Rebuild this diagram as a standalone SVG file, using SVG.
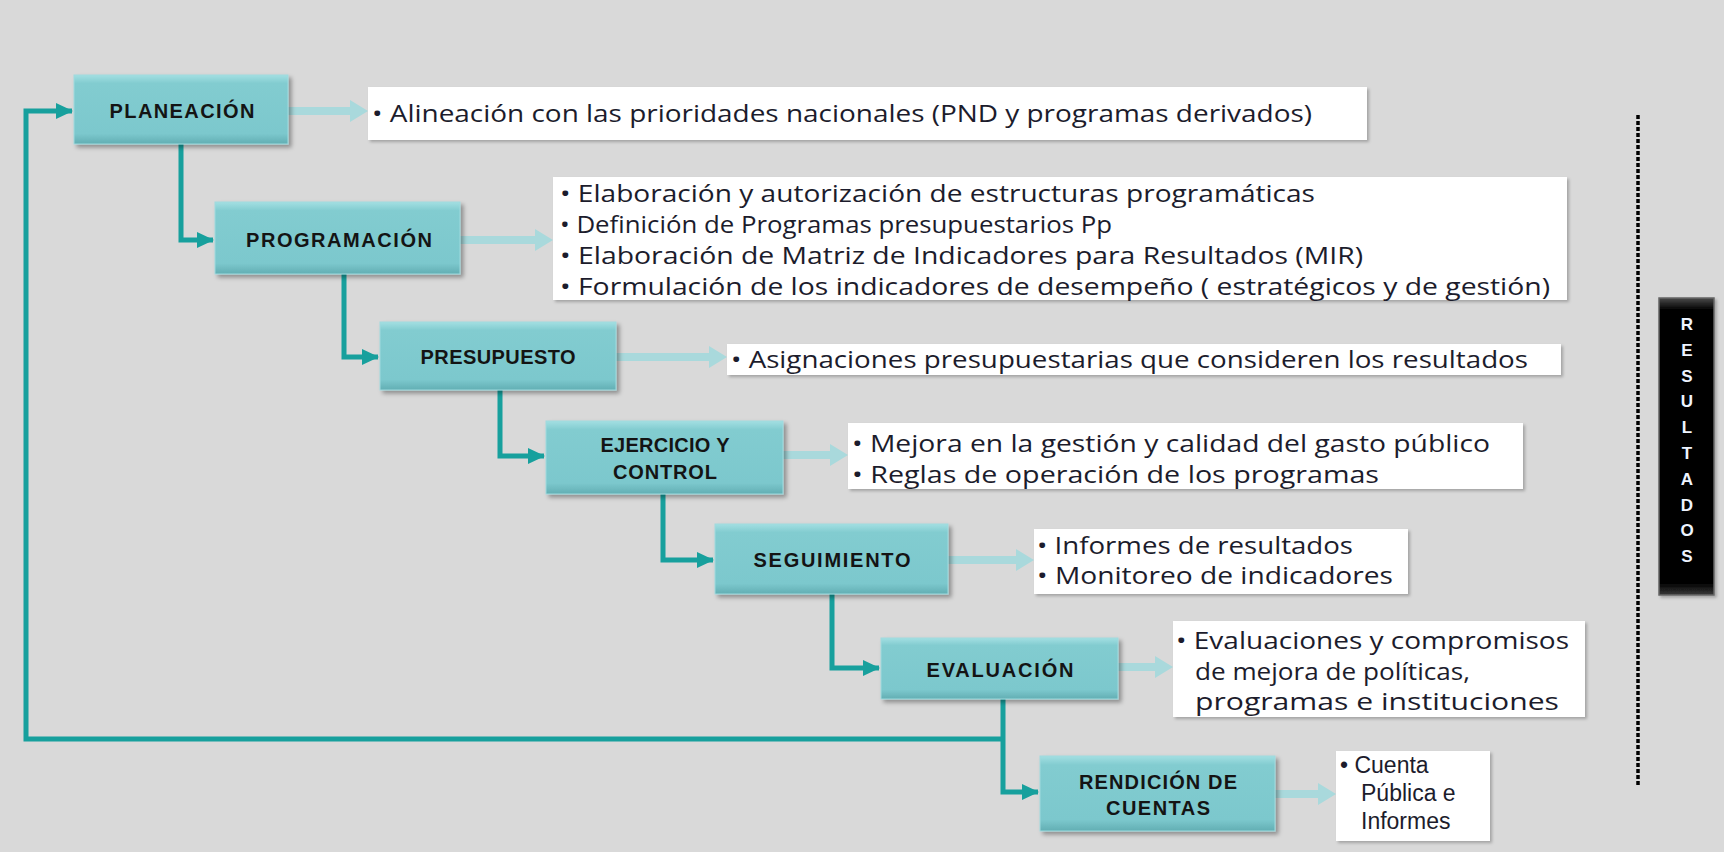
<svg xmlns="http://www.w3.org/2000/svg" width="1724" height="852" viewBox="0 0 1724 852">
<defs>
<linearGradient id="tealGrad" x1="0" y1="0" x2="0" y2="1">
<stop offset="0" stop-color="#a3dfe2"/>
<stop offset="0.12" stop-color="#82ccd0"/>
<stop offset="0.85" stop-color="#7cc8cd"/>
<stop offset="1" stop-color="#62aeb3"/>
</linearGradient>
<linearGradient id="blackGrad" x1="0" y1="0" x2="0" y2="1">
<stop offset="0" stop-color="#4a4a4a"/>
<stop offset="0.04" stop-color="#000"/>
<stop offset="0.96" stop-color="#000"/>
<stop offset="1" stop-color="#3a3a3a"/>
</linearGradient>
<filter id="shadow" x="-10%" y="-10%" width="130%" height="140%">
<feDropShadow dx="3" dy="3" stdDeviation="2" flood-color="#000" flood-opacity="0.35"/>
</filter>
<filter id="shadowLight" x="-5%" y="-10%" width="115%" height="140%">
<feDropShadow dx="2" dy="2" stdDeviation="1.5" flood-color="#000" flood-opacity="0.25"/>
</filter>
<marker id="tealHead" markerUnits="userSpaceOnUse" markerWidth="18" markerHeight="18" refX="16" refY="9" orient="auto">
<path d="M0,1 L17,9 L0,17 Z" fill="#17a09d"/>
</marker>
<style>
.box{fill:url(#tealGrad);stroke:#9fdade;stroke-width:1;filter:url(#shadow)}
.tbox{fill:#fff;filter:url(#shadowLight)}
.lbl{font-family:"Liberation Sans",Arial,sans-serif;font-weight:bold;font-size:20px;fill:#141414;text-anchor:middle}
.txt{font-family:"Open Sans","Liberation Sans",sans-serif;font-size:24px;fill:#1c1c2c}
.txt2{font-family:"Liberation Sans",Arial,sans-serif;font-size:23px;fill:#1c1c2c}
.conn{fill:none;stroke:#17a09d;stroke-width:5}
.larr{fill:#a9d9dc}
.res{font-family:"Liberation Sans",Arial,sans-serif;font-weight:900;font-size:17px;fill:#eef4ff;text-anchor:middle}
</style>
</defs>
<rect x="0" y="0" width="1724" height="852" fill="#d9d9d9"/>

<g id="connectors">
<path class="conn" d="M181,144 V240 H213" marker-end="url(#tealHead)"/>
<path class="conn" d="M344,274 V357 H378" marker-end="url(#tealHead)"/>
<path class="conn" d="M500,390 V456 H544" marker-end="url(#tealHead)"/>
<path class="conn" d="M663,494 V560 H713" marker-end="url(#tealHead)"/>
<path class="conn" d="M832,594 V668 H879" marker-end="url(#tealHead)"/>
<path class="conn" d="M1003,699 V792 H1038" marker-end="url(#tealHead)"/>
<path class="conn" d="M1003,739 H26 V111 H72" marker-end="url(#tealHead)"/>
<polygon class="larr" points="288,107 350,107 350,100 368,111 350,122 350,115 288,115"/>
<polygon class="larr" points="460,236 535,236 535,229 553,240 535,251 535,244 460,244"/>
<polygon class="larr" points="616,353 709,353 709,346 727,357 709,368 709,361 616,361"/>
<polygon class="larr" points="783,451 830,451 830,444 848,455 830,466 830,459 783,459"/>
<polygon class="larr" points="948,556 1016,556 1016,549 1034,560 1016,571 1016,564 948,564"/>
<polygon class="larr" points="1118,663 1155,663 1155,656 1173,667 1155,678 1155,671 1118,671"/>
<polygon class="larr" points="1275,790 1318,790 1318,783 1336,794 1318,805 1318,798 1275,798"/>
</g>

<g id="planeacion">
<rect class="box" x="74" y="75" width="214" height="69"/>
<text class="lbl" x="182" y="118" textLength="145" lengthAdjust="spacing">PLANEACIÓN</text>
</g>
<g id="planeacion-text">
<rect class="tbox" x="368" y="87" width="999" height="53"/>
<text class="txt" x="372" y="122" textLength="940" lengthAdjust="spacingAndGlyphs">• Alineación con las prioridades nacionales (PND y programas derivados)</text>
</g>

<g id="programacion">
<rect class="box" x="215" y="202" width="245" height="72"/>
<text class="lbl" x="339" y="247" textLength="186" lengthAdjust="spacing">PROGRAMACIÓN</text>
</g>
<g id="programacion-text">
<rect class="tbox" x="553" y="177" width="1014" height="123"/>
<text class="txt" x="560" y="202" textLength="755" lengthAdjust="spacingAndGlyphs">• Elaboración y autorización de estructuras programáticas</text>
<text class="txt" x="560" y="233" textLength="552" lengthAdjust="spacingAndGlyphs">• Definición de Programas presupuestarios Pp</text>
<text class="txt" x="560" y="264" textLength="803" lengthAdjust="spacingAndGlyphs">• Elaboración de Matriz de Indicadores para Resultados (MIR)</text>
<text class="txt" x="560" y="295" textLength="990" lengthAdjust="spacingAndGlyphs">• Formulación de los indicadores de desempeño  ( estratégicos y de gestión)</text>
</g>

<g id="presupuesto">
<rect class="box" x="380" y="322" width="236" height="68"/>
<text class="lbl" x="498" y="364" textLength="155" lengthAdjust="spacing">PRESUPUESTO</text>
</g>
<g id="presupuesto-text">
<rect class="tbox" x="727" y="344" width="834" height="31"/>
<text class="txt" x="731" y="368" textLength="797" lengthAdjust="spacingAndGlyphs">• Asignaciones presupuestarias que consideren los  resultados</text>
</g>

<g id="ejercicio">
<rect class="box" x="546" y="421" width="237" height="73"/>
<text class="lbl" x="665" y="452" textLength="129" lengthAdjust="spacing">EJERCICIO Y</text>
<text class="lbl" x="665" y="479" textLength="104" lengthAdjust="spacing">CONTROL</text>
</g>
<g id="ejercicio-text">
<rect class="tbox" x="848" y="423" width="675" height="66"/>
<text class="txt" x="852" y="452" textLength="638" lengthAdjust="spacingAndGlyphs">• Mejora en la gestión y calidad del gasto público</text>
<text class="txt" x="852" y="483" textLength="527" lengthAdjust="spacingAndGlyphs">• Reglas  de operación de los programas</text>
</g>

<g id="seguimiento">
<rect class="box" x="715" y="524" width="233" height="70"/>
<text class="lbl" x="832" y="567" textLength="157" lengthAdjust="spacing">SEGUIMIENTO</text>
</g>
<g id="seguimiento-text">
<rect class="tbox" x="1034" y="529" width="374" height="65"/>
<text class="txt" x="1037" y="554" textLength="316" lengthAdjust="spacingAndGlyphs">• Informes de resultados</text>
<text class="txt" x="1037" y="584" textLength="356" lengthAdjust="spacingAndGlyphs">• Monitoreo de indicadores</text>
</g>

<g id="evaluacion">
<rect class="box" x="881" y="638" width="237" height="61"/>
<text class="lbl" x="1000" y="677" textLength="147" lengthAdjust="spacing">EVALUACIÓN</text>
</g>
<g id="evaluacion-text">
<rect class="tbox" x="1173" y="621" width="412" height="96"/>
<text class="txt" x="1176" y="649" textLength="393" lengthAdjust="spacingAndGlyphs">• Evaluaciones y compromisos</text>
<text class="txt" x="1195" y="680" textLength="275" lengthAdjust="spacingAndGlyphs">de mejora de políticas,</text>
<text class="txt" x="1195" y="710" textLength="364" lengthAdjust="spacingAndGlyphs">programas e instituciones</text>
</g>

<g id="rendicion">
<rect class="box" x="1040" y="756" width="235" height="75"/>
<text class="lbl" x="1158" y="789" textLength="158" lengthAdjust="spacing">RENDICIÓN DE</text>
<text class="lbl" x="1158" y="815" textLength="104" lengthAdjust="spacing">CUENTAS</text>
</g>
<g id="rendicion-text">
<rect class="tbox" x="1336" y="751" width="154" height="90"/>
<text class="txt2" x="1340" y="773">• Cuenta</text>
<text class="txt2" x="1361" y="801">Pública e</text>
<text class="txt2" x="1361" y="829">Informes</text>
</g>

<g id="resultados-line">
<line x1="1638" y1="115" x2="1638" y2="786" stroke="#000" stroke-width="3.5" stroke-dasharray="4,2"/>
</g>
<g id="resultados">
<rect x="1659" y="298" width="55" height="297" fill="url(#blackGrad)" stroke="#666" stroke-width="1.5" filter="url(#shadowLight)"/>
<text class="res" x="1687" y="330">R</text>
<text class="res" x="1687" y="356">E</text>
<text class="res" x="1687" y="382">S</text>
<text class="res" x="1687" y="407">U</text>
<text class="res" x="1687" y="433">L</text>
<text class="res" x="1687" y="459">T</text>
<text class="res" x="1687" y="485">A</text>
<text class="res" x="1687" y="511">D</text>
<text class="res" x="1687" y="536">O</text>
<text class="res" x="1687" y="562">S</text>
</g>
</svg>
